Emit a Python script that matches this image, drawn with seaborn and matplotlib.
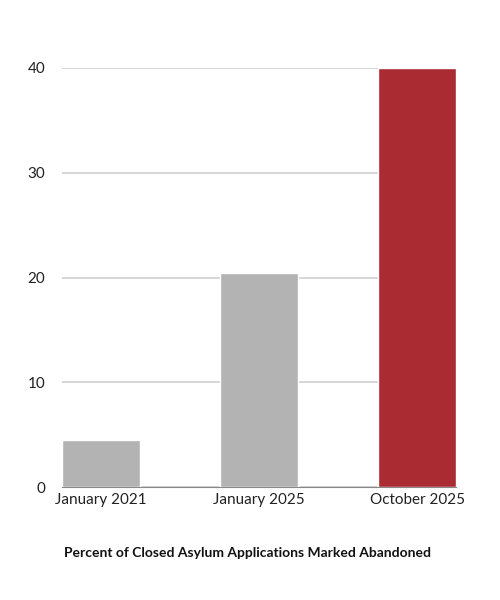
import matplotlib
matplotlib.use("Agg")
import matplotlib.pyplot as plt
import seaborn as sns
import pandas as pd

categories = ["January 2021", "January 2025", "October 2025"]
values = [4.5, 20.4, 40.0]
colors = ["#b3b3b3", "#b3b3b3", "#c0161f"]
yticks = [0, 10, 20, 30, 40]

sns.set_style("white")
plt.rcParams['font.family'] = ['Lato', 'DejaVu Sans']

fig = plt.figure(figsize=(5, 6), dpi=100)
ax = fig.add_axes([0.124, 0.1883, 0.788, 0.6984])
df = pd.DataFrame({"cat": categories, "val": values})
sns.barplot(data=df, x="cat", y="val", hue="cat", palette=colors, legend=False,
            width=0.49, ax=ax, zorder=3)
ax.set_xlim(-0.245, 2.245)
ax.set_ylim(0, 40)
ax.set_yticks(yticks)
ax.yaxis.grid(True, color="#d0d0d0", linewidth=1.2, zorder=0)
for s in ["top", "right", "left"]:
    ax.spines[s].set_visible(False)
ax.spines["bottom"].set_color("#888888")
ax.tick_params(axis="both", length=0, labelsize=11, colors="#222222")
ax.tick_params(axis="y", pad=12)
ax.tick_params(axis="x", pad=4)
ax.set_xlabel("")
ax.set_ylabel("")
fig.text(0.496, 0.078, "Percent of Closed Asylum Applications Marked Abandoned",
         ha="center", va="center", fontsize=10, fontweight="bold", color="#111111")
fig.savefig("out.png", dpi=100)
